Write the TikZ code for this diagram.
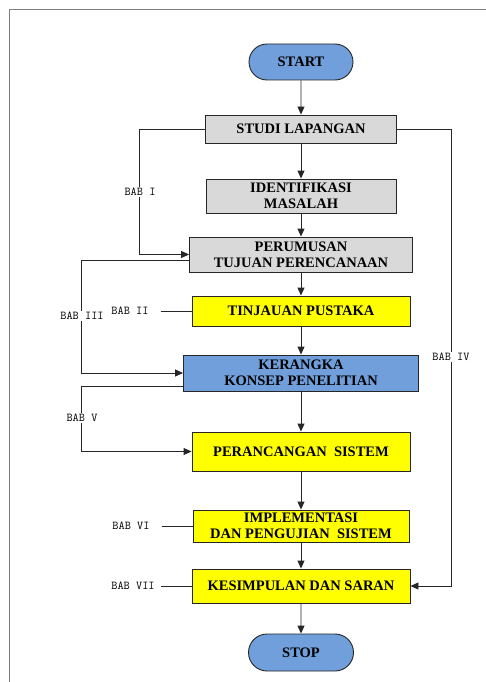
\documentclass[tikz,border=0pt]{standalone}
\usepackage{fontspec}
\setmainfont{Liberation Serif}
\usetikzlibrary{shapes,arrows.meta}
\definecolor{boxgrey}{RGB}{217,217,217}
\definecolor{boxblue}{RGB}{112,159,219}
\definecolor{boxyellow}{RGB}{255,255,0}
\tikzset{
  box/.style={draw=black!85, line width=0.9pt, inner sep=0pt, align=center,
    font=\fontsize{14.5}{16}\selectfont\bfseries},
  grey box/.style={box, fill=boxgrey},
  yellow box/.style={box, fill=boxyellow},
  blue box/.style={box, fill=boxblue},
  term/.style={box, rounded rectangle, fill=boxblue},
  bab/.style={font=\ttfamily\fontsize{12}{12}\selectfont, fill=white, inner sep=1pt},
  flow/.style={-{Triangle[length=8pt,width=7pt]}, draw=black!85, line width=0.9pt},
  link/.style={draw=black!85, line width=0.9pt}
}

\begin{document}
\begin{tikzpicture}[x=1pt,y=-1pt]
\useasboundingbox (0,0) rectangle (486,682);
\draw[gray, line width=1pt] (486,10) -- (9,10) -- (9,682);

\node[term, minimum width=104pt, minimum height=36pt] (v0) at (301,62) {START};
\node[grey box, minimum width=191pt, minimum height=28pt] (v1) at (301,129) {STUDI LAPANGAN};
\node[grey box, minimum width=190pt, minimum height=34pt] (v2) at (301,196) {IDENTIFIKASI\\MASALAH};
\node[grey box, minimum width=223pt, minimum height=35pt] (v3) at (301,254.5) {PERUMUSAN\\TUJUAN PERENCANAAN};
\node[yellow box, minimum width=218pt, minimum height=30pt] (v4) at (301,311) {TINJAUAN PUSTAKA};
\node[blue box, minimum width=235pt, minimum height=36pt] (v5) at (301,373) {KERANGKA\\KONSEP PENELITIAN};
\node[yellow box, minimum width=218pt, minimum height=39pt] (v6) at (301,451.5) {PERANCANGAN\ \ SISTEM};
\node[yellow box, minimum width=216pt, minimum height=32pt] (v7) at (301,526) {IMPLEMENTASI\\DAN PENGUJIAN\ \ SISTEM};
\node[yellow box, minimum width=218pt, minimum height=34pt] (v8) at (301,586) {KESIMPULAN DAN SARAN};
\node[term, minimum width=105pt, minimum height=37pt] (v9) at (301,652.5) {STOP};

\draw[flow] (v0) -- (v1);
\draw[flow] (v1) -- (v2);
\draw[flow] (v2) -- (v3);
\draw[flow] (v3) -- (v4);
\draw[flow] (v4) -- (v5);
\draw[flow] (v5) -- (v6);
\draw[flow] (v6) -- (v7);
\draw[flow] (v7) -- (v8);
\draw[flow] (v8) -- (v9);

\draw[flow] (v1.west) -- ++(-65.5,0) |- (v3.west);
\draw[flow] (v1.east) -- ++(54.5,0) |- (v8.east);
\draw[flow] ([yshift=-6pt]v3.west) -- ++(-107.5,0) |- (v5.west);
\draw[flow] ([yshift=-13pt]v5.west) -- ++(-101.5,0) |- (v6.west);

\node[bab] (l1) at (140,192) {BAB I};
\node[bab] (l2) at (130,311) {BAB II};
\node[bab] (l3) at (82,316) {BAB III};
\node[bab] (l4) at (451,357) {BAB IV};
\node[bab] (l5) at (82,418) {BAB V};
\node[bab] (l6) at (131,526) {BAB VI};
\node[bab] (l7) at (133,586) {BAB VII};

\draw[link] ([xshift=11pt]l2.east) -- (v4.west);
\draw[link] ([xshift=11pt]l6.east) -- (v7.west);
\draw[link] ([xshift=5pt]l7.east) -- (v8.west);
\end{tikzpicture}
\end{document}
